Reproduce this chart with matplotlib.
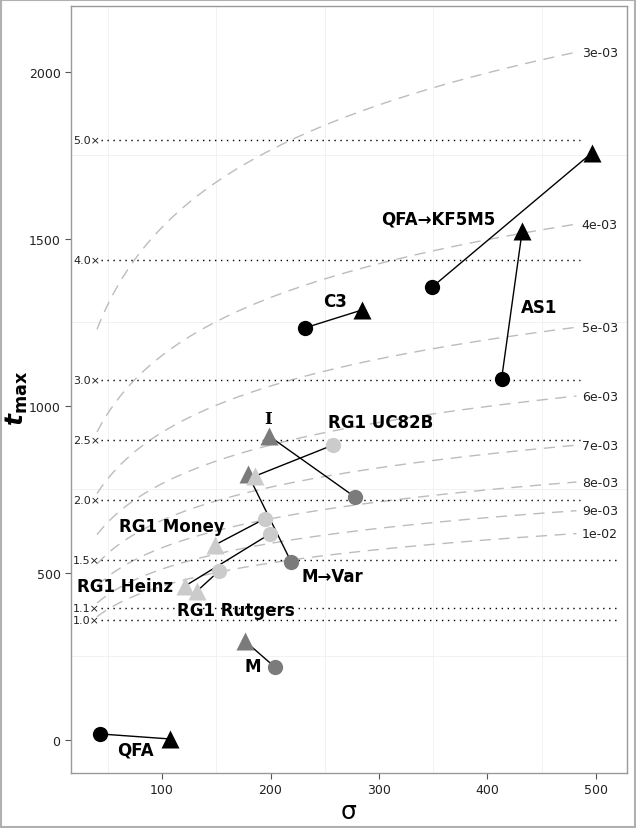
import numpy as np
import matplotlib
matplotlib.use("Agg")
from matplotlib import pyplot as plt
from matplotlib.patches import Rectangle

plt.rcParams['lines.scale_dashes'] = False
plt.rcParams['mathtext.fontset'] = 'custom'
plt.rcParams['mathtext.bf'] = 'DejaVu Sans:bold'
plt.rcParams['mathtext.bfit'] = 'DejaVu Sans:italic:bold'

# strain pairs: circle (start) -> triangle (end)
names = ["QFA", "M", "RG1 Rutgers", "RG1 Heinz", "RG1 Money", "I",
         "M→Var", "RG1 UC82B", "C3", "QFA→KF5M5", "AS1"]
circ_sigma = [43, 204, 152.5, 199.5, 194.5, 278, 219, 257.6, 232, 349, 413]
circ_t = [18, 218, 506, 617, 662, 727, 533, 883, 1234, 1356, 1081]
tri_sigma = [107.4, 176.5, 132.3, 121.2, 148.8, 198.6, 179, 185.7, 284, 496, 432]
tri_t = [3, 296, 446, 461, 584, 910, 796, 790, 1287, 1757, 1524]
group = ["k", "m", "r", "r", "r", "m", "m", "r", "k", "k", "k"]
label_sigma = [75, 184, 168, 66, 109, 197.7, 257, 301.4, 259.4, 354.4, 448]
label_t = [-30, 222, 389, 461, 641, 961, 491, 952, 1314, 1560, 1296]

# fold-change reference lines
base_t = 359
mults = [1.0, 1.1, 1.5, 2.0, 2.5, 3.0, 4.0, 5.0]

# rate contours t = ln(sigma) / r
rates = [3e-3, 4e-3, 5e-3, 6e-3, 7e-3, 8e-3, 9e-3, 1e-2]
rate_labels = ["3e-03", "4e-03", "5e-03", "6e-03", "7e-03", "8e-03", "9e-03", "1e-02"]

colors = {"k": "black", "m": "#7b7b7b", "r": "#cbcbcb"}

fig = plt.figure(figsize=(6.36, 8.29), dpi=100)
ax = fig.add_axes([0.1116, 0.0663, 0.8742, 0.9247])

ax.set_xlim(16, 528.6)
ax.set_ylim(-99, 2196)

# faint grid at minor positions
for xv in [50, 150, 250, 350, 450]:
    ax.axvline(xv, color="#f0f0f0", lw=0.6, zorder=0)
for yv in [250, 750, 1250, 1750]:
    ax.axhline(yv, color="#f0f0f0", lw=0.6, zorder=0)

s = np.linspace(40, 482, 200)
for r, lab in zip(rates, rate_labels):
    tt = np.log(s) / r
    ax.plot(s, tt, color="#bcbcbc", lw=1.0, dashes=(8, 5.5), zorder=1)
    ax.text(487, tt[-1], lab, fontsize=9, va="center", ha="left", color="#222222")

for m in mults:
    yv = base_t * m
    xend = 485 if m >= 2 else 522
    ax.plot([44, xend], [yv, yv], color="black", lw=1.0, dashes=(1, 3.3), zorder=1)
    ax.text(43, yv, "%.1f×" % m, fontsize=8, va="center", ha="right", color="#222222")

for i in range(len(names)):
    c = colors[group[i]]
    ax.plot([circ_sigma[i], tri_sigma[i]], [circ_t[i], tri_t[i]], color="black", lw=1.0, zorder=2)
    ax.plot(circ_sigma[i], circ_t[i], "o", color=c, ms=11, mec="none", zorder=3)
    ax.plot(tri_sigma[i], tri_t[i], "^", color=c, ms=13, mec="none", zorder=3)
    fam = "DejaVu Serif" if names[i] == "I" else "DejaVu Sans"
    ax.text(label_sigma[i], label_t[i], names[i], fontsize=12, fontweight="bold",
            family=fam, ha="center", va="center", zorder=4)

ax.set_xticks([100, 200, 300, 400, 500])
ax.set_yticks([0, 500, 1000, 1500, 2000])
ax.tick_params(colors="#555555", labelcolor="#222222", labelsize=9, length=4, width=0.8)
for sp in ax.spines.values():
    sp.set_color("#999999")
    sp.set_linewidth(1.0)

ax.set_xlabel("σ", fontsize=18, labelpad=2)
ax.set_ylabel(r"$\mathbfit{t}_{\mathbf{max}}$", fontsize=18)
ax.yaxis.set_label_coords(-0.074, 0.49)

fig.patches.append(Rectangle((0.001, 0.001), 0.998, 0.998, transform=fig.transFigure,
                             fill=False, edgecolor="#b0b0b0", lw=1.5))

fig.savefig("out.png", dpi=100)
